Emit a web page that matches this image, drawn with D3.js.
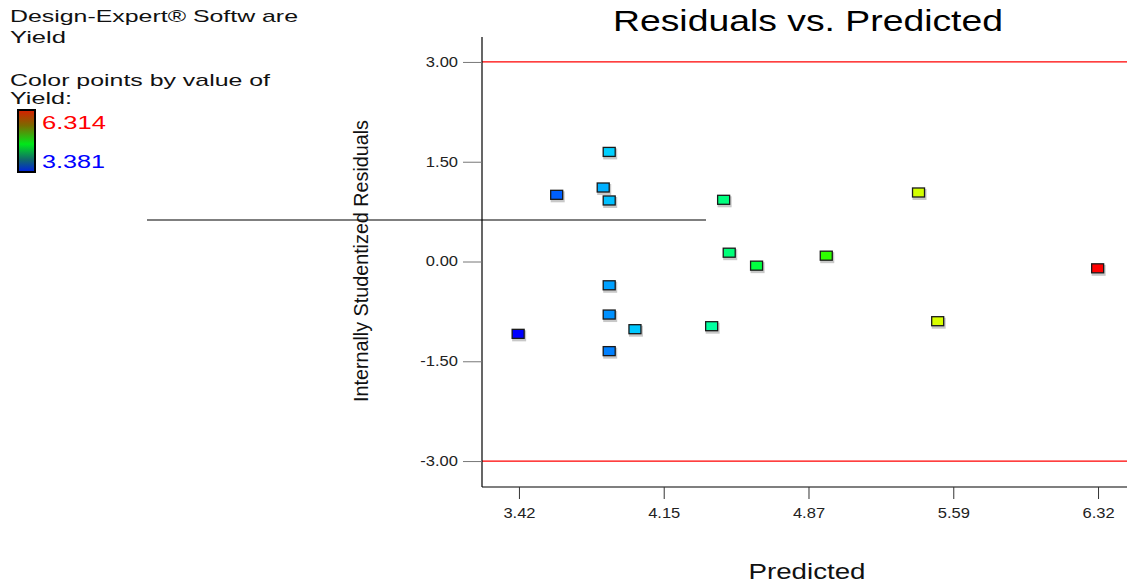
<!DOCTYPE html>
<html>
<head>
<meta charset="utf-8">
<script src="https://cdn.jsdelivr.net/npm/d3@7"></script>
<style>
  body { margin: 0; background: #fff; }
  text { font-family: "Liberation Sans", Arial, sans-serif; }
</style>
</head>
<body>
<div id="chart"></div>
<script>
// values
var predicted = [3.872, 3.842, 3.609, 3.872, 4.445, 4.473, 4.610, 3.872, 3.872, 4.001, 4.385, 3.416, 3.872, 5.421, 4.959, 6.318, 5.517];
var residuals = [1.64, 1.105, 0.995, 0.91, 0.92, 0.125, -0.07, -0.365, -0.805, -1.025, -0.98, -1.095, -1.355, 1.03, 0.08, -0.11, -0.905];
var yieldVals = [3.98, 3.887, 3.657, 3.933, 4.481, 4.50, 4.664, 3.845, 3.797, 3.955, 4.387, 3.381, 3.748, 5.45, 4.98, 6.314, 5.471];

var xTickVals = [3.42, 4.145, 4.87, 5.595, 6.32];
var xTickLabels = ["3.42", "4.15", "4.87", "5.59", "6.32"];
var yTickVals = [3, 1.5, 0, -1.5, -3];
var yTickLabels = ["3.00", "1.50", "0.00", "-1.50", "-3.00"];
var limits = [3, -3];
var yieldRange = [3.381, 6.314];

var W = 1127, H = 584;
var svg = d3.select("#chart").append("svg")
  .attr("width", W)
  .attr("height", H);

var x = d3.scaleLinear().domain([3.235, 6.465]).range([482, 1127]);
var y = d3.scaleLinear().domain([-3.39, 3.375]).range([487, 37]);
var hue = d3.scaleLinear().domain(yieldRange).range([240, 0]);

// header text, glyphs stretched wide like the original
var hdr = svg.append("g").style("font-size", "17px").attr("fill", "#111");
[["Design-Expert\u00ae Softw are", 22, 288], ["Yield", 43, 56],
 ["Color points by value of", 86, 260], ["Yield:", 104, 62]].forEach(function(t) {
  hdr.append("text").attr("x", 10).attr("y", t[1])
    .attr("textLength", t[2]).attr("lengthAdjust", "spacingAndGlyphs").text(t[0]);
});

// legend bar
var defs = svg.append("defs");
var grad = defs.append("linearGradient").attr("id", "lg")
  .attr("x1", 0).attr("y1", 0).attr("x2", 0).attr("y2", 1);
[["0%", "#d81e00"], ["25%", "#7a6a00"], ["55%", "#00e81a"], ["80%", "#106a6a"], ["100%", "#0020e0"]]
  .forEach(function(s) { grad.append("stop").attr("offset", s[0]).attr("stop-color", s[1]); });
svg.append("rect").attr("x", 18).attr("y", 110).attr("width", 17).attr("height", 62)
  .attr("fill", "url(#lg)").attr("stroke", "#000").attr("stroke-width", 2);
svg.append("text").attr("x", 42).attr("y", 129).style("font-size", "18px").attr("fill", "#ff0000")
  .attr("textLength", 64).attr("lengthAdjust", "spacingAndGlyphs").text(yieldRange[1].toFixed(3));
svg.append("text").attr("x", 42).attr("y", 168).style("font-size", "18px").attr("fill", "#0000ff")
  .attr("textLength", 63).attr("lengthAdjust", "spacingAndGlyphs").text(yieldRange[0].toFixed(3));

// title
svg.append("text").attr("x", 808).attr("y", 31).attr("text-anchor", "middle")
  .style("font-size", "29px").attr("fill", "#000")
  .attr("textLength", 390).attr("lengthAdjust", "spacingAndGlyphs")
  .text("Residuals vs. Predicted");

// stray line
svg.append("line").attr("x1", 147).attr("x2", 706).attr("y1", 220).attr("y2", 220)
  .attr("stroke", "#555").attr("stroke-width", 1.5);

// limit lines
svg.selectAll(".lim").data(limits).enter().append("line")
  .attr("x1", x.range()[0]).attr("x2", x.range()[1])
  .attr("y1", d => y(d)).attr("y2", d => y(d))
  .attr("stroke", "#ff0000").attr("stroke-width", 1.2);

// axes
var xAxis = d3.axisBottom(x).tickValues(xTickVals).tickSize(12).tickPadding(9)
  .tickFormat((d, i) => xTickLabels[i]);
var gx = svg.append("g").attr("transform", "translate(0,487)").call(xAxis);
var yAxis = d3.axisLeft(y).tickValues(yTickVals).tickSize(19).tickPadding(5)
  .tickFormat((d, i) => yTickLabels[i]);
var gy = svg.append("g").attr("transform", "translate(482,0)").call(yAxis);
[gx, gy].forEach(function(g) {
  g.select(".domain").attr("stroke", "#000").attr("stroke-width", 1.2);
  g.selectAll("text").style("font-size", "14px").attr("fill", "#222")
    .style("font-family", "'Liberation Sans', Arial, sans-serif")
    .each(function() {
      var w = this.getComputedTextLength();
      d3.select(this).attr("textLength", w * 1.18).attr("lengthAdjust", "spacingAndGlyphs");
    });
});
gx.select(".domain").attr("d", "M482,0H1127");
gy.select(".domain").attr("d", "M0,37V487");
gx.selectAll(".tick line").attr("stroke", "#333");
gy.selectAll(".tick line").attr("stroke", "#777");

// axis titles
svg.append("text").attr("x", 807).attr("y", 579).attr("text-anchor", "middle")
  .style("font-size", "22px").attr("fill", "#111")
  .attr("textLength", 117).attr("lengthAdjust", "spacingAndGlyphs").text("Predicted");
svg.append("text").attr("transform", "translate(368,261) rotate(-90)")
  .attr("text-anchor", "middle").style("font-size", "21px").attr("fill", "#111")
  .attr("textLength", 282).attr("lengthAdjust", "spacingAndGlyphs")
  .text("Internally Studentized Residuals");

// points
var pts = predicted.map((p, i) => ({ p: p, r: residuals[i], v: yieldVals[i] }));
var g = svg.append("g");
g.selectAll(".sh").data(pts).enter().append("rect")
  .attr("x", d => x(d.p) - 6).attr("y", d => y(d.r) - 4)
  .attr("width", 14).attr("height", 11)
  .attr("fill", "#c8c8c8");
g.selectAll(".pt").data(pts).enter().append("rect")
  .attr("x", d => x(d.p) - 6).attr("y", d => y(d.r) - 5)
  .attr("width", 12).attr("height", 9)
  .attr("fill", d => d3.hsl(hue(d.v), 1, 0.5))
  .attr("stroke", "#1a1a1a").attr("stroke-width", 1.3);
</script>
</body>
</html>
